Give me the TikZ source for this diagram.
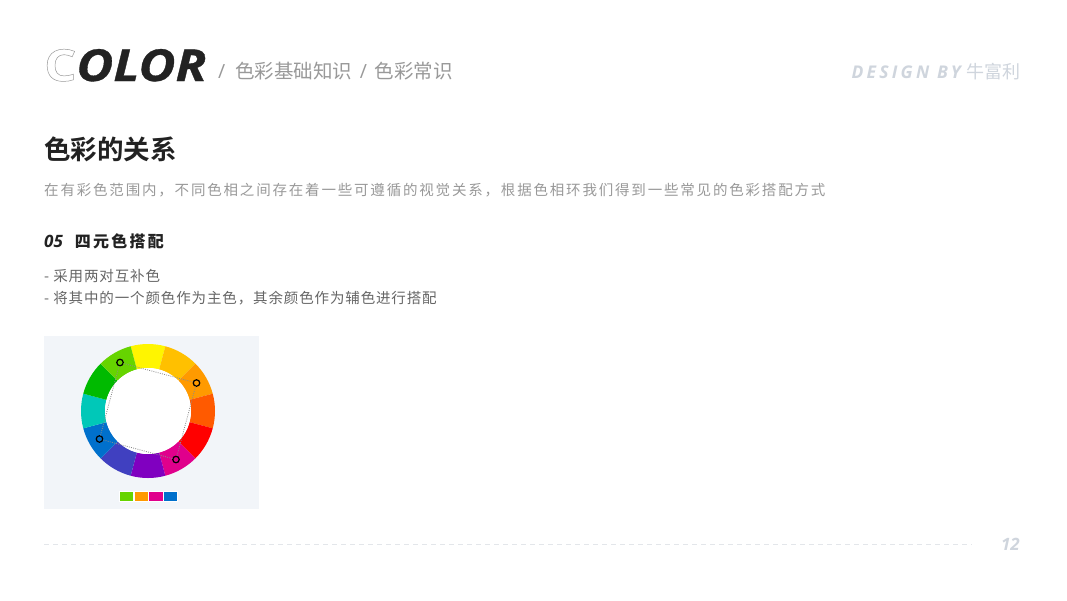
\documentclass[tikz,border=0pt]{standalone}
\usepackage{fontspec}
\setmainfont{Open Sans}
\newfontfamily\cjk{Noto Sans CJK SC}
\newfontfamily\cjkbold{Noto Sans CJK SC Bold}
\newfontfamily\cjkwide[LetterSpace=12.5]{Noto Sans CJK SC}
\newfontfamily\cjkboldwide[LetterSpace=14]{Noto Sans CJK SC Bold}
\newfontfamily\cjkbody[LetterSpace=6]{Noto Sans CJK SC}
\newfontfamily\latinwide[LetterSpace=18.5]{Open Sans}
\newfontfamily\logofont[FakeStretch=1.15,FakeBold=0.8]{Open Sans}
\newfontfamily\logoCfont[FakeStretch=1.15]{Open Sans}
\usetikzlibrary{positioning}

\definecolor{inkdark}{HTML}{222222}
\definecolor{inkgray}{HTML}{999999}
\definecolor{inkbody}{HTML}{666666}
\definecolor{inklight}{HTML}{CFD5DD}
\definecolor{rulegray}{HTML}{E3E6EA}
\definecolor{panelbg}{HTML}{F2F5F9}
\definecolor{dotgray}{HTML}{8C8C8C}
% hue wheel
\definecolor{wyellow}{HTML}{FFF500}
\definecolor{wamber}{HTML}{FFC000}
\definecolor{worange}{HTML}{FF9A00}
\definecolor{wvermil}{HTML}{FF5A00}
\definecolor{wred}{HTML}{FF0000}
\definecolor{wmagenta}{HTML}{E0008C}
\definecolor{wpurple}{HTML}{8000C0}
\definecolor{windigo}{HTML}{4040C0}
\definecolor{wblue}{HTML}{0070CC}
\definecolor{wteal}{HTML}{00C8B8}
\definecolor{wgreen}{HTML}{00BA00}
\definecolor{wlime}{HTML}{66D400}

\newcommand{\hollowC}{{\logoCfont\bfseries\upshape\color{inkgray}\special{pdf:code 0.5 w 1 Tr}C\special{pdf:code 0 Tr}}}

\begin{document}
\begin{tikzpicture}[x=1pt,y=-1pt,
  txt/.style={inner sep=0pt,anchor=base west},
  mk/.style={circle,draw=black,line width=1.2pt,minimum size=6.5pt,inner sep=0pt},
  sw/.style={draw=white,line width=0.4pt,minimum width=14.2pt,minimum height=9.4pt,inner sep=0pt}]

    % Page
    \fill[white] (0,0) rectangle (1067,600);
    \useasboundingbox (0,0) rectangle (1067,600);

    % Header
    \node[txt] (logo) at (44,81) {\fontsize{44}{44}\selectfont\hollowC\logofont\bfseries\itshape\color{inkdark}OLOR};
    \node[txt,text=inkgray] (crumb) at (218,78.4)
        {\fontsize{19.5}{20}\selectfont /\hspace{10pt}\cjk 色彩基础知识\hspace{7.5pt}\rmfamily/\hspace{7.5pt}\cjk 色彩常识};
    \node[txt,anchor=base east,text=inklight] (design) at (1021,78.5)
        {\fontsize{17.5}{18}\selectfont\latinwide\bfseries\itshape DESIGN BY\hspace{6pt}\cjk\mdseries\upshape\fontsize{18}{18}\selectfont 牛富利};

    % Title and intro
    \node[txt,text=inkdark] (title) at (44,159) {\fontsize{26.5}{27}\selectfont\cjkbold 色彩的关系};
    \node[txt,text=inkgray] (intro) at (44,195.5)
        {\fontsize{14.5}{15}\selectfont\cjkwide 在有彩色范围内，不同色相之间存在着一些可遵循的视觉关系，根据色相环我们得到一些常见的色彩搭配方式};

    % Section 05
    \node[txt,text=inkdark] (sec) at (44,247)
        {\fontsize{17}{17}\selectfont\bfseries\itshape 05\hspace{12pt}\fontsize{16}{16}\selectfont\cjkboldwide 四元色搭配};
    \node[txt,text=inkbody] (pointa) at (44,281.5) {\fontsize{14.5}{15}\selectfont\cjkbody - 采用两对互补色};
    \node[txt,text=inkbody] (pointb) at (44,303.5) {\fontsize{14.5}{15}\selectfont\cjkbody - 将其中的一个颜色作为主色，其余颜色作为辅色进行搭配};

    % Panel
    \fill[panelbg] (44,336) rectangle (259,509);

    % Hue wheel
    \coordinate (wc) at (148,411);
    \foreach \c [count=\i] in {wyellow,wamber,worange,wvermil,wred,wmagenta,wpurple,windigo,wblue,wteal,wgreen,wlime}{
        \pgfmathsetmacro\s{225+30*\i}
        \fill[\c] ([shift={(\s:43)}]wc) -- ([shift={(\s:67)}]wc)
            arc[start angle=\s, end angle=\s+30, radius=67]
            -- ([shift={(\s+30:43)}]wc)
            arc[start angle=\s+30, end angle=\s, radius=43] -- cycle;
    }
    \fill[white] (wc) circle (43);

    % Four picked hues
    \node[mk] (mlime) at ([shift={(240:56)}]wc) {};
    \node[mk] (morange) at ([shift={(330:56)}]wc) {};
    \node[mk] (mmagenta) at ([shift={(60:56)}]wc) {};
    \node[mk] (mblue) at ([shift={(150:56)}]wc) {};
    \draw[dotgray, line width=0.8pt, dash pattern=on 0.9pt off 1.3pt] (mlime) -- (morange) -- (mmagenta) -- (mblue) -- (mlime);

    % Swatches
    \node[sw, fill=wlime] (s1) at (126.4,496) {};
    \node[sw, fill=worange, right=0pt of s1] (s2) {};
    \node[sw, fill=wmagenta, right=0pt of s2] (s3) {};
    \node[sw, fill=wblue, right=0pt of s3] (s4) {};

    % Footer
    \coordinate (ruleL) at (44,544);
    \coordinate (ruleR) at (972,544);
    \draw[rulegray, line width=1pt, dash pattern=on 5pt off 4pt] (ruleL) -- (ruleR);
    \node[txt,anchor=base east,text=inklight] (page) at (1020,550) {\fontsize{17}{17}\selectfont\bfseries\itshape 12};

\end{tikzpicture}
\end{document}
